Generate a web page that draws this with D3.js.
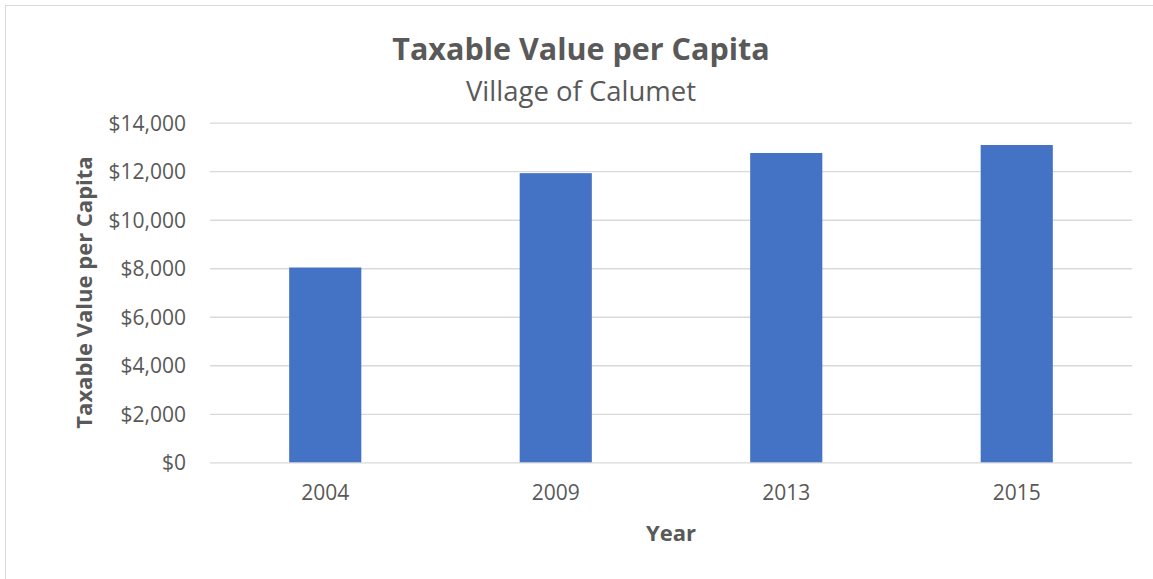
<!DOCTYPE html>
<html>
<head>
<meta charset="utf-8">
<script src="https://cdn.jsdelivr.net/npm/d3@7"></script>
<style>
  html, body { margin: 0; padding: 0; background: #fff; }
  svg { display: block; font-family: "Open Sans", sans-serif; }
</style>
</head>
<body>
<svg width="1153" height="579"></svg>
<script>
// chart data
var years = ["2004", "2009", "2013", "2015"];
var values = [8030, 11920, 12750, 13080];
var yTicks = [0, 2000, 4000, 6000, 8000, 10000, 12000, 14000];

var svg = d3.select("svg"),
    width = +svg.attr("width"),
    height = +svg.attr("height");

var margin = {top: 122.7, right: 21, bottom: 116.7, left: 210};
var plotW = width - margin.left - margin.right,
    plotH = height - margin.top - margin.bottom;

var textColor = "#595959";
var font = "'Open Sans', sans-serif";

// outer chart border
svg.append("rect")
    .attr("x", 5.5).attr("y", 5.5)
    .attr("width", width + 10).attr("height", height + 10)
    .attr("fill", "none")
    .attr("stroke", "#d9d9d9");

var x = d3.scaleBand()
    .domain(years)
    .range([0, plotW])
    .paddingInner(0.687)
    .paddingOuter(0.3435);

var y = d3.scaleLinear()
    .domain([0, 14000])
    .range([plotH, 0]);

var g = svg.append("g")
    .attr("transform", "translate(" + margin.left + "," + margin.top + ")");

// gridlines + y labels
var yAxis = d3.axisLeft(y)
    .tickValues(yTicks)
    .tickSize(-plotW)
    .tickPadding(24)
    .tickFormat(function(d) { return "$" + d3.format(",")(d); });

var ya = g.append("g").attr("class", "y axis").call(yAxis)
    .attr("font-family", font)
    .attr("font-size", 21);
ya.select(".domain").remove();
ya.selectAll("line").attr("stroke", "#d9d9d9").attr("stroke-width", 1.3);
ya.selectAll("text")
    .attr("fill", textColor)
    .attr("dy", "0.36em");

// bars
g.selectAll("rect.bar")
    .data(values)
    .enter().append("rect")
    .attr("class", "bar")
    .attr("x", function(d, i) { return x(years[i]); })
    .attr("y", function(d) { return y(d); })
    .attr("width", x.bandwidth())
    .attr("height", function(d) { return plotH - y(d); })
    .attr("fill", "#4472c4");

// x axis
var xAxis = d3.axisBottom(x).tickSize(0).tickPadding(23);
var xa = g.append("g")
    .attr("transform", "translate(0," + plotH + ")")
    .call(xAxis)
    .attr("font-family", font)
    .attr("font-size", 21);
xa.select(".domain").remove();
xa.selectAll("text")
    .attr("fill", textColor);

// titles
svg.append("text")
    .attr("x", 581).attr("y", 60)
    .attr("text-anchor", "middle")
    .attr("fill", textColor)
    .style("font-size", "30.5px")
    .style("font-weight", "bold")
    .text("Taxable Value per Capita");

svg.append("text")
    .attr("x", 581).attr("y", 101)
    .attr("text-anchor", "middle")
    .attr("fill", textColor)
    .style("font-size", "27.5px")
    .text("Village of Calumet");

svg.append("text")
    .attr("x", margin.left + plotW / 2).attr("y", 541)
    .attr("text-anchor", "middle")
    .attr("fill", textColor)
    .style("font-size", "22px")
    .style("font-weight", "bold")
    .text("Year");

svg.append("text")
    .attr("transform", "translate(92," + (margin.top + plotH / 2) + ") rotate(-90)")
    .attr("text-anchor", "middle")
    .attr("fill", textColor)
    .style("font-size", "22px")
    .style("font-weight", "bold")
    .text("Taxable Value per Capita");
</script>
</body>
</html>
